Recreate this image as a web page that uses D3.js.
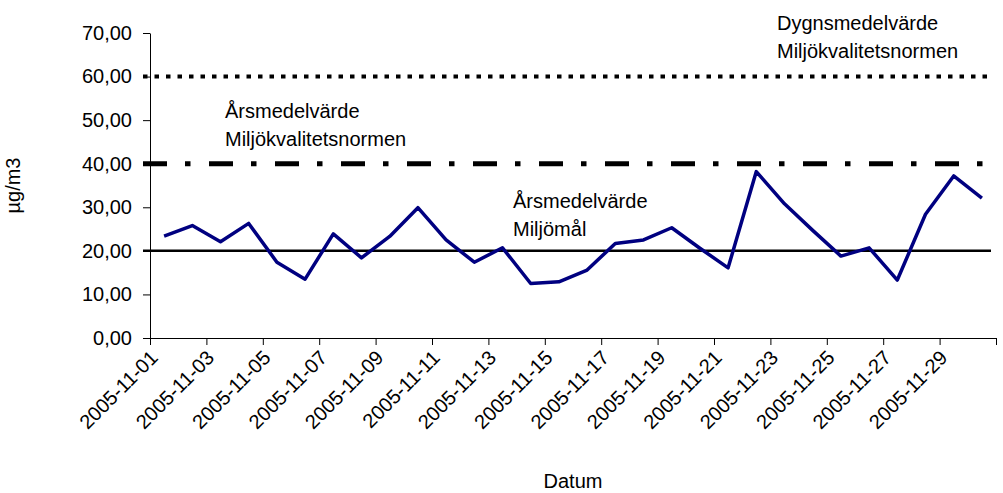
<!DOCTYPE html>
<html>
<head>
<meta charset="utf-8">
<script src="https://cdn.jsdelivr.net/npm/d3@7"></script>
<style>
  body { margin: 0; background: #fff; }
  text { font-family: "Liberation Sans", Arial, sans-serif; fill: #000; }
</style>
</head>
<body>
<div id="chart"></div>
<script>
// days of November 2005
var dates = ["2005-11-01","2005-11-02","2005-11-03","2005-11-04","2005-11-05","2005-11-06",
  "2005-11-07","2005-11-08","2005-11-09","2005-11-10","2005-11-11","2005-11-12","2005-11-13",
  "2005-11-14","2005-11-15","2005-11-16","2005-11-17","2005-11-18","2005-11-19","2005-11-20",
  "2005-11-21","2005-11-22","2005-11-23","2005-11-24","2005-11-25","2005-11-26","2005-11-27",
  "2005-11-28","2005-11-29","2005-11-30"];
// daily values, µg/m3
var values = [23.4, 25.8, 22.1, 26.3, 17.4, 13.5, 23.9, 18.4, 23.3, 29.9,
  22.5, 17.4, 20.7, 12.5, 12.9, 15.6, 21.7, 22.5, 25.3, 20.6,
  16.1, 38.2, 30.8, 24.7, 18.8, 20.7, 13.3, 28.4, 37.2, 32.1];
var yTicks = [0, 10, 20, 30, 40, 50, 60, 70];
var xLabels = dates.filter(function(d, i) { return i % 2 === 0; });
// limit values and their notes
var limitValues = [60, 40, 20];
var limitNotes = [
  ["Dygnsmedelvärde", "Miljökvalitetsnormen"],
  ["Årsmedelvärde", "Miljökvalitetsnormen"],
  ["Årsmedelvärde", "Miljömål"]
];

var width = 1003, height = 493;
var plotLeft = 150, plotRight = 996, plotTop = 33, plotBottom = 338;

var svg = d3.select("#chart").append("svg")
    .attr("width", width)
    .attr("height", height);

var x = d3.scaleBand().domain(dates).range([plotLeft, plotRight]).padding(0);
// index scale for the tick marks between categories
var xIdx = d3.scaleLinear().domain([0, dates.length]).range([plotLeft, plotRight]);
var y = d3.scaleLinear().domain([0, 70]).range([plotBottom, plotTop]);

// y axis
var yAxis = svg.append("g")
    .attr("transform", "translate(" + plotLeft + ",0)")
    .call(d3.axisLeft(y).tickValues(yTicks).tickSize(7).tickSizeOuter(0).tickPadding(11)
      .tickFormat(function(d) { return d.toFixed(2).replace(".", ","); }));
yAxis.selectAll("text").style("font-size", "20px").style("font-family", "Liberation Sans, Arial, sans-serif");
yAxis.select(".domain").attr("stroke", "#000");

// x axis: ticks every second day boundary
var xAxis = svg.append("g")
    .attr("transform", "translate(0," + plotBottom + ")")
    .call(d3.axisBottom(xIdx).tickValues(d3.range(0, dates.length + 1, 2)).tickSize(7).tickSizeOuter(0)
      .tickFormat(""));
xAxis.select(".domain").attr("stroke", "#000");

// rotated date labels
svg.append("g").selectAll("text")
    .data(xLabels)
    .enter()
  .append("text")
    .attr("transform", function(d) {
        return "translate(" + (x(d) + x.bandwidth() / 2 - 10) + "," + (plotBottom + 16) + ") rotate(-45)";
    })
    .attr("text-anchor", "end")
    .attr("dy", "0.35em")
    .style("font-size", "20px")
    .text(function(d) { return d; });

// limit lines
var lineStyles = [
  { dash: "4.5,7", w: 4 },
  { dash: "24,18,5.5,18.5", w: 5 },
  { dash: null, w: 2.5 }
];
svg.append("g").selectAll("line")
    .data(limitValues)
    .enter()
  .append("line")
    .attr("x1", plotLeft - 7)
    .attr("x2", plotRight - 5)
    .attr("y1", function(d) { return y(d); })
    .attr("y2", function(d) { return y(d); })
    .attr("stroke", "#000")
    .attr("stroke-width", function(d, i) { return lineStyles[i].w; })
    .attr("stroke-dasharray", function(d, i) { return lineStyles[i].dash; });

// notes for the limit lines
var notePos = [[777, 30], [225, 118], [513, 208]];
limitNotes.forEach(function(note, i) {
    svg.append("text")
        .attr("x", notePos[i][0])
        .attr("y", notePos[i][1])
        .style("font-size", "20px")
      .selectAll("tspan")
        .data(note)
        .enter()
      .append("tspan")
        .attr("x", notePos[i][0])
        .attr("dy", function(d, j) { return j === 0 ? 0 : 28; })
        .text(function(d) { return d; });
});

// data line
var line = d3.line()
    .x(function(d, i) { return x(dates[i]) + x.bandwidth() / 2; })
    .y(function(d) { return y(d); });

svg.append("path")
    .datum(values)
    .attr("d", line)
    .attr("fill", "none")
    .attr("stroke", "#000080")
    .attr("stroke-width", 3.5)
    .attr("stroke-linejoin", "round");

// axis titles
svg.append("text")
    .attr("transform", "translate(20," + ((plotTop + plotBottom) / 2) + ") rotate(-90)")
    .attr("text-anchor", "middle")
    .style("font-size", "20px")
    .text("µg/m3");

svg.append("text")
    .attr("x", (plotLeft + plotRight) / 2)
    .attr("y", 488)
    .attr("text-anchor", "middle")
    .style("font-size", "20px")
    .text("Datum");
</script>
</body>
</html>
